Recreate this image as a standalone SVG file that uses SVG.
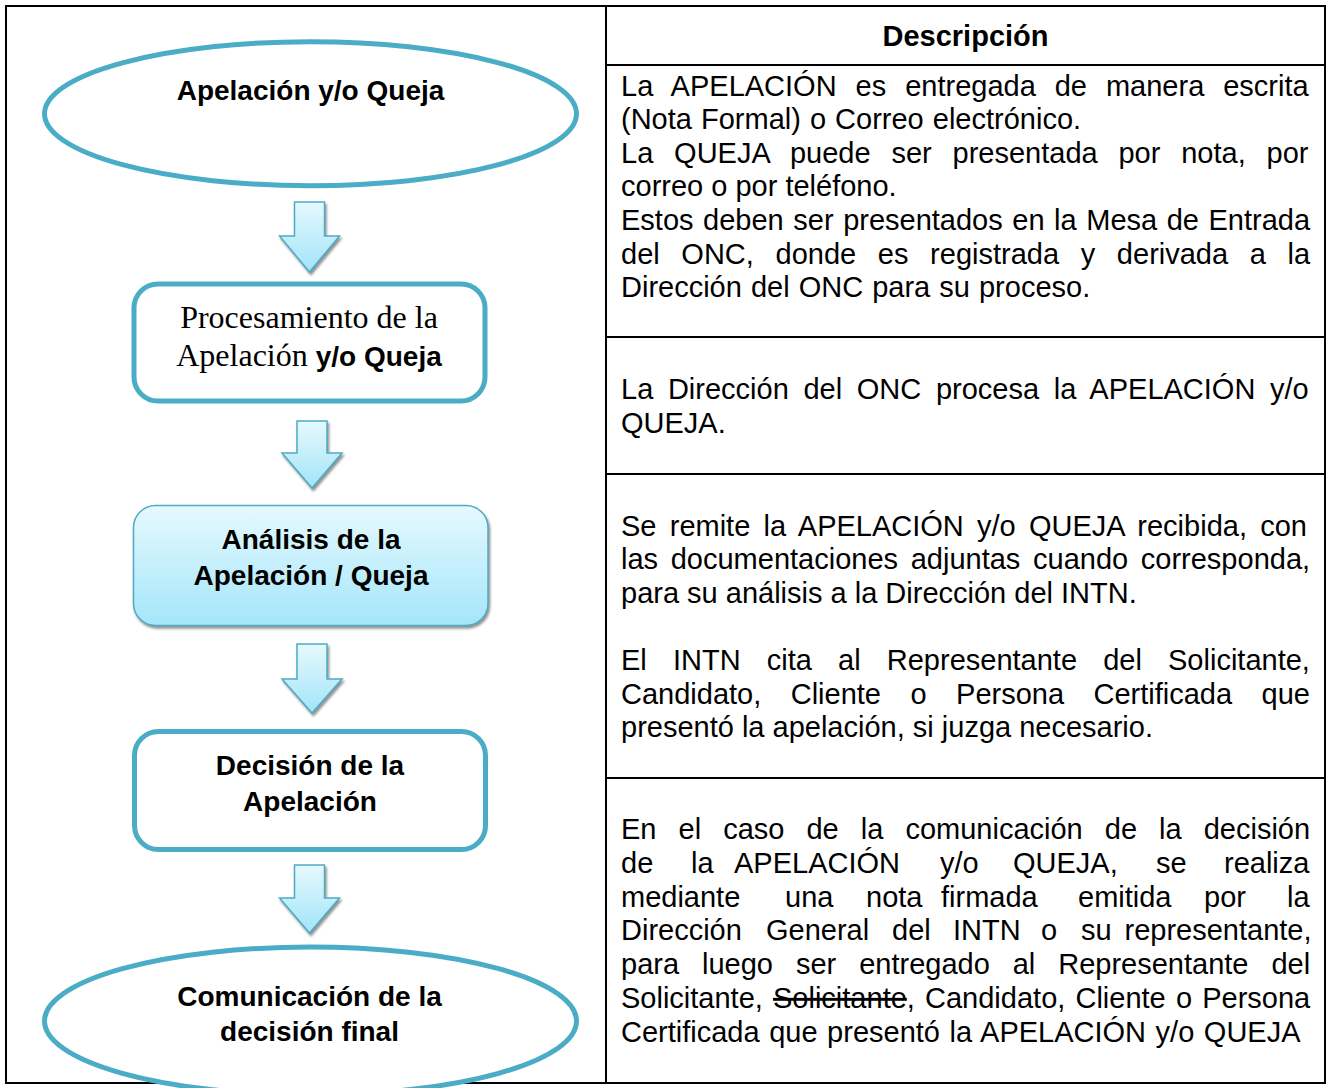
<svg xmlns="http://www.w3.org/2000/svg" width="1327" height="1088" viewBox="0 0 1327 1088">
<style>
.grid{stroke:#000;stroke-width:2;fill:none}
.desc{font-family:"Liberation Sans",Arial,sans-serif;font-size:29px;fill:#000}
.hdr{font-family:"Liberation Sans",Arial,sans-serif;font-size:29px;font-weight:bold;fill:#000;text-anchor:middle}
.node{font-family:"Liberation Sans",Arial,sans-serif;font-size:28px;font-weight:bold;fill:#000;text-anchor:middle}
.serif{font-family:"Liberation Serif","Times New Roman",serif;font-size:32px;font-weight:normal}
.shape{fill:#fff;stroke:#4BACC6;stroke-width:5}
.arrow{fill:url(#gArrow);stroke:#4BACC6;stroke-width:1.5;filter:url(#shadow)}
.strike{text-decoration:line-through}
</style>
<defs>
<linearGradient id="gArrow" x1="0" y1="0" x2="0" y2="1">
<stop offset="0" stop-color="#E6F9FE"/>
<stop offset="1" stop-color="#A2E4F8"/>
</linearGradient>
<linearGradient id="gBox" x1="0" y1="0" x2="0" y2="1">
<stop offset="0" stop-color="#E6F9FE"/>
<stop offset="1" stop-color="#A4E6FA"/>
</linearGradient>
<filter id="shadow" x="-20%" y="-20%" width="140%" height="140%">
<feDropShadow dx="1.5" dy="2.5" stdDeviation="1" flood-color="#7f7f7f" flood-opacity="0.85"/>
</filter>
</defs>
<rect x="0" y="0" width="1327" height="1088" fill="#fff"/>

<g id="table">
<rect class="grid" x="6" y="6" width="1319" height="1077"/>
<line class="grid" x1="606" y1="6" x2="606" y2="1083"/>
<line class="grid" x1="606" y1="65" x2="1325" y2="65"/>
<line class="grid" x1="606" y1="337" x2="1325" y2="337"/>
<line class="grid" x1="606" y1="474" x2="1325" y2="474"/>
<line class="grid" x1="606" y1="778" x2="1325" y2="778"/>
<text class="hdr" x="965.5" y="46">Descripción</text>
</g>

<g id="desc1" class="desc">
<text x="621" y="95.5" style="word-spacing:10.9px">La APELACIÓN es entregada de manera escrita</text>
<text x="621" y="129.1" style="word-spacing:1px">(Nota Formal) o Correo electrónico.</text>
<text x="621" y="162.7" style="word-spacing:12.76px">La QUEJA puede ser presentada por nota, por</text>
<text x="621" y="196.3">correo o por teléfono.</text>
<text x="621" y="229.9" style="word-spacing:1.5px">Estos deben ser presentados en la Mesa de Entrada</text>
<text x="621" y="263.5" style="word-spacing:13.6px">del ONC, donde es registrada y derivada a la</text>
<text x="621" y="297.1" style="word-spacing:1px">Dirección del ONC para su proceso.</text>
</g>

<g id="desc2" class="desc">
<text x="621" y="399" style="word-spacing:6.6px">La Dirección del ONC procesa la APELACIÓN y/o</text>
<text x="621" y="432.5">QUEJA.</text>
</g>

<g id="desc3" class="desc">
<text x="621" y="535.5" style="word-spacing:5.2px">Se remite la APELACIÓN y/o QUEJA recibida, con</text>
<text x="621" y="569" style="word-spacing:4.6px">las documentaciones adjuntas cuando corresponda,</text>
<text x="621" y="602.5">para su análisis a la Dirección del INTN.</text>
<text x="621" y="670" style="word-spacing:18.1px">El INTN cita al Representante del Solicitante,</text>
<text x="621" y="703.5" style="word-spacing:21.4px">Candidato, Cliente o Persona Certificada que</text>
<text x="621" y="737">presentó la apelación, si juzga necesario.</text>
</g>

<g id="desc4" class="desc">
<text x="621" y="839" style="word-spacing:14px">En el caso de la comunicación de la decisión</text>
<text y="872.8"><tspan x="621">de</tspan><tspan x="691">la</tspan><tspan x="734">APELACIÓN</tspan><tspan x="940">y/o</tspan><tspan x="1013">QUEJA,</tspan><tspan x="1156">se</tspan><tspan x="1224">realiza</tspan></text>
<text y="906.6"><tspan x="621">mediante</tspan><tspan x="785">una</tspan><tspan x="866">nota</tspan><tspan x="941">firmada</tspan><tspan x="1078">emitida</tspan><tspan x="1204">por</tspan><tspan x="1287">la</tspan></text>
<text y="940.4"><tspan x="621">Dirección</tspan><tspan x="766">General</tspan><tspan x="892">del</tspan><tspan x="953">INTN</tspan><tspan x="1041">o</tspan><tspan x="1081">su</tspan><tspan x="1124.5">representante,</tspan></text>
<text x="621" y="974.2" style="word-spacing:14.9px">para luego ser entregado al Representante del</text>
<text x="621" y="1008" style="word-spacing:2.1px">Solicitante, <tspan class="strike">Solicitante</tspan>, Candidato, Cliente o Persona</text>
<text x="621" y="1041.8" style="word-spacing:1.5px">Certificada que presentó la APELACIÓN y/o QUEJA</text>
</g>

<g id="connectors">
<path class="arrow" d="M294.5,202 H324.5 V236 H339.5 L309.5,272 L279.5,236 H294.5 Z"/>
<path class="arrow" d="M297,421 H327 V453 H342 L312,488 L282,453 H297 Z"/>
<path class="arrow" d="M297,644 H327 V679 H342 L312,713 L282,679 H297 Z"/>
<path class="arrow" d="M294.5,865 H324.5 V898 H339.5 L309.5,933 L279.5,898 H294.5 Z"/>
</g>

<g id="n1">
<ellipse class="shape" cx="310.5" cy="113.7" rx="266" ry="72"/>
<text class="node" x="310.5" y="99.5">Apelación y/o Queja</text>
</g>

<g id="n2">
<rect class="shape" x="134" y="284" width="351" height="117" rx="24"/>
<text class="node" x="309" y="328"><tspan class="serif">Procesamiento de la</tspan></text>
<text class="node" x="309" y="365.7"><tspan class="serif">Apelación </tspan>y/o Queja</text>
</g>

<g id="n3">
<rect x="133.5" y="505.5" width="354.5" height="120" rx="22" fill="url(#gBox)" stroke="#4BACC6" stroke-width="1.5" filter="url(#shadow)"/>
<text class="node" x="311" y="549">Análisis de la</text>
<text class="node" x="311" y="585">Apelación / Queja</text>
</g>

<g id="n4">
<rect class="shape" x="134.5" y="731.5" width="351" height="118" rx="24"/>
<text class="node" x="310" y="775">Decisión de la</text>
<text class="node" x="310" y="810.5">Apelación</text>
</g>

<g id="n5">
<ellipse class="shape" cx="310.5" cy="1021" rx="266" ry="74"/>
<text class="node" x="309.5" y="1006">Comunicación de la</text>
<text class="node" x="309.5" y="1040.5">decisión final</text>
</g>
</svg>
